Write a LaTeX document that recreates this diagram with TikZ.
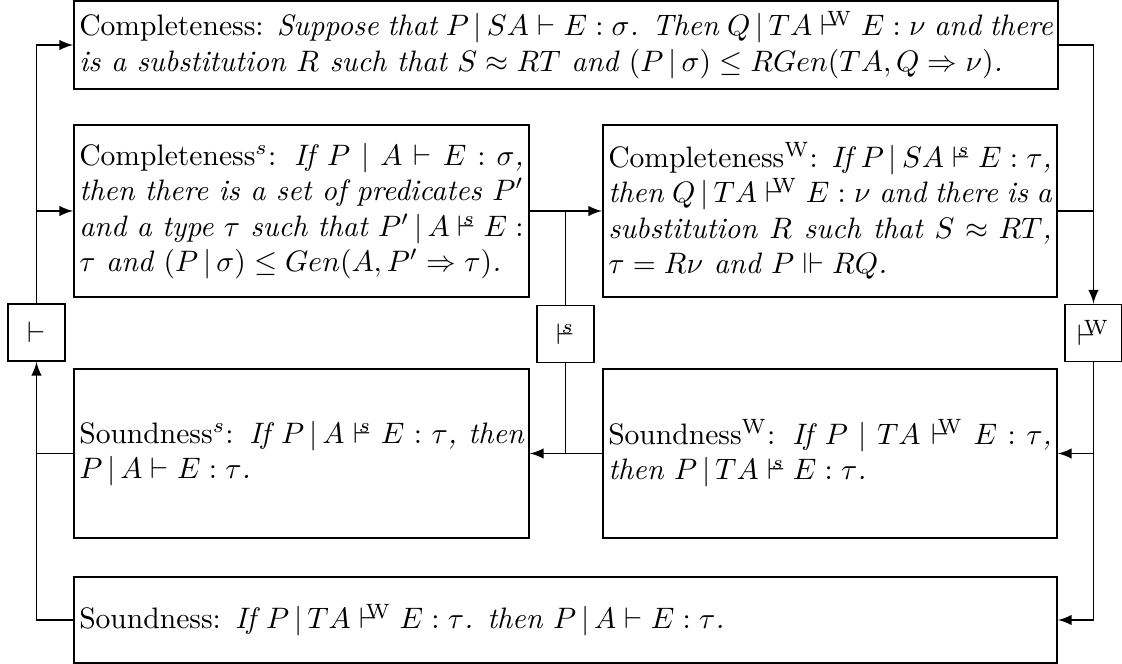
\documentclass[tikz,border=0pt]{standalone}
\usepackage{amssymb}
\tolerance=9999
\hyphenpenalty=10000
% turnstiles with their system marks
\newcommand{\vds}{\mathrel{{\vdash}\mkern-8mu{}^{s}}}
\newcommand{\vdw}{\mathrel{{\vdash}\mkern-7mu{}^{\mathrm{W}}}}
\begin{document}
\begin{tikzpicture}[>=latex, x=0.338pt, y=-0.338pt, line width=0.6pt,
    thm/.style={draw, align=justify, inner xsep=1.8pt, font=\itshape},
    tsbox/.style={draw, minimum size=19.3pt, inner sep=0pt}]
  \useasboundingbox (0,0) rectangle (1122,664);
  % theorem boxes
  \node[thm, text width=329pt, minimum height=29.1pt] (complete) at (566,45)
    {\textup{Completeness:} Suppose that $P\,|\,SA \vdash E : \sigma$. Then $Q\,|\,TA \vdw E : \nu$ and there\linebreak
     is a substitution $R$ such that $S \approx RT$ and $(P\,|\,\sigma) \leq RGen(TA, Q \Rightarrow \nu)$.};
  \node[thm, text width=150.2pt, minimum height=58.1pt] (compS) at (301.5,211)
    {\textup{Completeness$^s$:} If $P \mid A \vdash E : \sigma$,\linebreak
     then there is a set of predicates $P'$\linebreak
     and a type $\tau$ such that $P'\,|\,A \vds E :$\linebreak
     $\tau$ and $(P\,|\,\sigma) \leq Gen(A, P' \Rightarrow \tau)$.};
  \node[thm, text width=149.9pt, minimum height=58.1pt] (compW) at (830,211)
    {\textup{Completeness\textsuperscript{W}:} If $P\,|\,SA \vds E : \tau$,\linebreak
     then $Q\,|\,TA \vdw E : \nu$ and there is a\linebreak
     substitution $R$ such that $S \approx RT$,\linebreak
     $\tau = R\nu$ and $P \Vdash RQ$.};
  \node[thm, text width=150.2pt, minimum height=57.1pt] (soundS) at (301.5,453.5)
    {\textup{Soundness$^s$:} If $P\,|\,A \vds E : \tau$, then\linebreak
     $P\,|\,A \vdash E : \tau$.};
  \node[thm, text width=149.9pt, minimum height=57.1pt] (soundW) at (830,453.5)
    {\textup{Soundness\textsuperscript{W}:} If $P \mid TA \vdw E : \tau$,\linebreak
     then $P\,|\,TA \vds E : \tau$.};
  \node[thm, text width=328.7pt, minimum height=29.1pt] (sound) at (565.5,620)
    {\textup{Soundness:} If $P\,|\,TA \vdw E : \tau$. then $P\,|\,A \vdash E : \tau$.};
  % the three systems
  \node[tsbox] (vd) at (36.5,332.5) {$\vdash$};
  \node[tsbox] (vdS) at (565.5,334) {$\vds$};
  \node[tsbox] (vdW) at (1093.5,333) {$\vdw$};
  % left side
  \draw[->] (vd.north) |- (complete.west);
  \draw[->] (vd.north |- compS.west) -- (compS.west);
  \draw[->] (sound.west) -| (vd.south);
  \draw (soundS.west) -- (soundS.west -| vd.south);
  % middle
  \draw[->] (compS.east) -- (compW.west);
  \draw (compS.east -| vdS.north) -- (vdS.north);
  \draw[->] (soundW.west) -- (soundS.east);
  \draw (vdS.south) -- (vdS.south |- soundS.east);
  % right side
  \draw[->] (complete.east) -| (vdW.north);
  \draw (compW.east) -- (compW.east -| vdW.north);
  \draw[->] (vdW.south) |- (sound.east);
  \draw[->] (vdW.south |- soundW.east) -- (soundW.east);
\end{tikzpicture}
\end{document}
